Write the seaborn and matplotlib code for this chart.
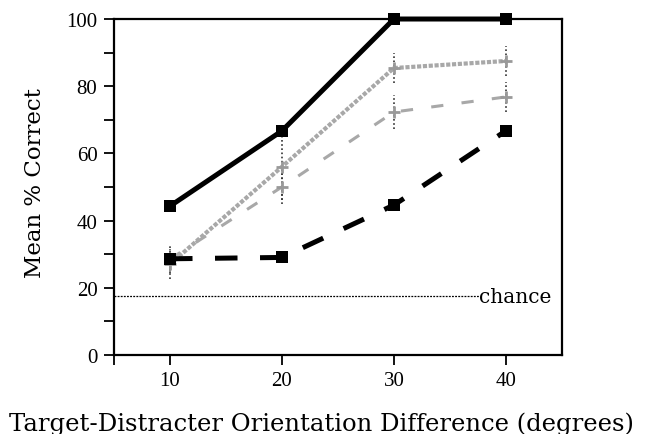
import matplotlib
matplotlib.use("Agg")
import matplotlib.pyplot as plt
import seaborn as sns
import pandas as pd
import numpy as np

# Orientation difference (degrees)
orient_diff = [10, 20, 30, 40]

# Mean percent correct for each condition
solid_black = [44.3, 66.7, 100.0, 100.0]
dashed_black = [28.6, 29.0, 44.6, 66.7]
gray_dotted = [27.0, 56.0, 85.4, 87.5]
gray_dotted_err = [4.5, 10.0, 4.5, 4.5]
gray_dashed = [28.5, 50.0, 72.3, 76.8]
gray_dashed_err = [4.0, 5.0, 5.0, 4.5]

chance_level = 17.5

x_ticks = [10, 20, 30, 40]
y_ticks = [0, 20, 40, 60, 80, 100]

sns.set_style("ticks")
plt.rcParams["font.family"] = ["Liberation Serif", "DejaVu Serif"]
plt.rcParams["text.color"] = "black"
plt.rcParams["axes.labelcolor"] = "black"
plt.rcParams["xtick.color"] = "black"
plt.rcParams["ytick.color"] = "black"
label_font = ["DejaVu Serif"]

fig = plt.figure(figsize=(6.48, 4.35), dpi=100)
ax = fig.add_axes([0.176, 0.182, 0.691, 0.772])

df = pd.DataFrame({
    "x": orient_diff * 4,
    "y": solid_black + dashed_black + gray_dotted + gray_dashed,
    "cond": ["A"] * 4 + ["B"] * 4 + ["C"] * 4 + ["D"] * 4,
})

# Gray conditions with dotted error bars
for vals, errs in [(gray_dotted, gray_dotted_err),
                   (gray_dashed, gray_dashed_err)]:
    eb = ax.errorbar(orient_diff, vals, yerr=errs, fmt="none",
                     ecolor="#333333", elinewidth=1.2, capsize=0, zorder=2)
    eb[2][0].set_linestyle((0, (1, 1.5)))

sns.lineplot(data=df[df.cond == "C"], x="x", y="y", ax=ax, color="#a8a8a8",
             linewidth=3.0, linestyle=(0, (1, 0.4)), zorder=3,
             marker="+", markersize=9, markeredgewidth=2,
             markeredgecolor="#999999")
sns.lineplot(data=df[df.cond == "D"], x="x", y="y", ax=ax, color="#a8a8a8",
             linewidth=2.2, linestyle=(0, (4, 6)), zorder=3,
             marker="+", markersize=9, markeredgewidth=2,
             markeredgecolor="#999999")

# Black conditions with square markers
sns.lineplot(data=df[df.cond == "A"], x="x", y="y", ax=ax, color="black",
             linewidth=3.6, marker="s", markersize=9, markeredgewidth=0,
             zorder=4, clip_on=False)
sns.lineplot(data=df[df.cond == "B"], x="x", y="y", ax=ax, color="black",
             linewidth=3.6, linestyle=(0, (4.5, 4.5)), marker="s",
             markersize=9, markeredgewidth=0, zorder=4, clip_on=False)

# Chance level
ax.plot([5, 37.6], [chance_level, chance_level], color="black",
        linewidth=0.9, linestyle=(0, (1.5, 1)), zorder=1)
ax.text(37.6, chance_level, "chance", fontsize=14.5, va="center", ha="left",
        family=label_font)

ax.set_xlim(5, 45)
ax.set_ylim(0, 100)
ax.set_xticks([5] + x_ticks)
ax.set_xticklabels([""] + [str(t) for t in x_ticks], fontsize=15)
ax.set_yticks(y_ticks)
ax.set_yticklabels([str(t) for t in y_ticks], fontsize=15)
ax.set_yticks(np.arange(10, 100, 20), minor=True)
ax.tick_params(axis="both", which="both", direction="out", length=7,
               width=1.3, color="black", pad=5)

for s in ax.spines.values():
    s.set_linewidth(1.6)
    s.set_color("black")

ax.set_xlabel("Target-Distracter Orientation Difference (degrees)",
              fontsize=17.5, family=label_font)
ax.set_ylabel("Mean % Correct", fontsize=16.5, family=label_font)
ax.xaxis.set_label_coords(0.464, -0.17)
ax.yaxis.set_label_coords(-0.152, 0.515)

fig.savefig("out.png", dpi=100)
